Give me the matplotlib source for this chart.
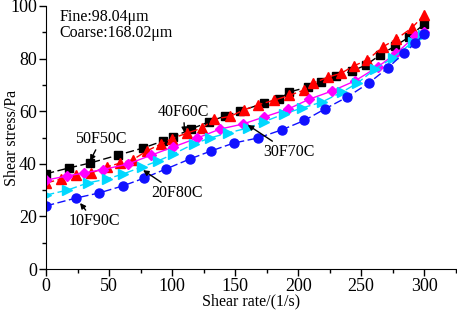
import matplotlib
matplotlib.use('Agg')
import matplotlib.pyplot as plt
from matplotlib.ticker import MultipleLocator

plt.rcParams['font.family'] = ['Liberation Serif', 'DejaVu Serif']

# 50F50C
x_50 = [0, 18, 35, 57, 77, 93, 101, 115, 129, 142, 154, 173, 185, 193, 208, 218, 230, 243, 254, 265, 277, 288, 300]
y_50 = [36.2, 38.4, 40.3, 43.3, 46.0, 48.7, 50.2, 53.2, 55.9, 58.2, 60.0, 63.1, 64.6, 67.3, 69.2, 71.1, 73.4, 75.3, 77.6, 81.4, 84.8, 88.2, 93.2]
# 40F60C
x_40 = [0, 12, 24, 36, 48, 59, 69, 80, 91, 100, 112, 124, 133, 146, 157, 168, 181, 193, 205, 212, 224, 234, 244, 255, 267, 278, 290, 300]
y_40 = [32.7, 34.2, 35.7, 36.5, 38.8, 40.3, 41.6, 44.9, 47.5, 49.6, 51.7, 53.6, 57.0, 58.0, 60.5, 62.4, 64.2, 66.0, 68.1, 70.7, 73.0, 74.4, 77.2, 79.5, 84.4, 87.5, 91.6, 96.6]
# 30F70C
x_30 = [0, 17, 30, 45, 65, 83, 101, 120, 138, 156, 173, 192, 209, 227, 245, 263, 278, 293, 300]
y_30 = [33.8, 35.4, 36.5, 37.8, 39.9, 43.2, 46.4, 49.8, 53.2, 55.1, 57.8, 60.8, 64.6, 67.7, 71.5, 76.8, 82.1, 88.6, 90.1]
# 20F80C
x_20 = [0, 17, 33, 48, 61, 76, 89, 101, 117, 130, 144, 160, 173, 189, 203, 219, 235, 247, 261, 275, 291, 299]
y_20 = [28.1, 30.0, 32.7, 34.2, 36.1, 38.8, 41.1, 43.7, 47.5, 49.8, 51.7, 53.6, 56.0, 59.0, 61.2, 63.5, 67.3, 70.7, 76.0, 80.2, 86.3, 89.0]
# 10F90C
x_10 = [0, 24, 42, 61, 78, 95, 114, 131, 149, 168, 187, 205, 221, 239, 256, 271, 284, 293, 300]
y_10 = [24.0, 27.0, 28.9, 31.6, 34.6, 38.0, 41.8, 44.9, 47.9, 49.8, 52.9, 56.5, 60.8, 65.4, 70.7, 76.4, 82.1, 85.9, 89.4]

fig = plt.figure(figsize=(4.57, 3.12), dpi=100)
ax = fig.add_axes([46/457, 43/312, 411/457, 263/312])

dash = (0, (6, 2.5))
ax.plot(x_50, y_50, color='black', ls=dash, lw=1, marker='s', ms=6)
ax.plot(x_40, y_40, color='#ff0000', ls=dash, lw=1, marker='^', ms=7)
ax.plot(x_30, y_30, color='#ff00ff', ls='-', lw=1, marker='D', ms=5.5)
ax.plot(x_20, y_20, color='#00d8ff', ls=dash, lw=1, marker='>', ms=7)
ax.plot(x_10, y_10, color='#1010ff', ls=dash, lw=1, marker='o', ms=6.5)

ax.set_xlim(0, 326)
ax.set_ylim(0, 100)
ax.xaxis.set_major_locator(MultipleLocator(50))
ax.xaxis.set_minor_locator(MultipleLocator(25))
ax.yaxis.set_major_locator(MultipleLocator(20))
ax.yaxis.set_minor_locator(MultipleLocator(10))
ax.spines['top'].set_visible(False)
ax.spines['right'].set_visible(False)
ax.tick_params(which='major', direction='out', length=5, width=1, labelsize=13, pad=1.5)
ax.tick_params(which='minor', direction='out', length=3, width=1)
ax.set_xlabel('Shear rate/(1/s)', fontsize=11.5)
ax.set_ylabel('Shear stress/Pa', fontsize=11.5)
# label coords: y label anchors at its right edge, x label at its top edge
ax.xaxis.set_label_coords(0.5, -0.093)
ax.yaxis.set_label_coords(-0.063, 0.5)

ax.text(11, 95.8, 'Fine:98.04\u03bcm', fontsize=11.5, va='center', ha='left')
ax.text(11, 89.7, 'Coarse:168.02\u03bcm', fontsize=11.5, va='center', ha='left')

arr = dict(arrowstyle='-|>', color='black', lw=1, mutation_scale=8, shrinkA=0, shrinkB=0)
ax.annotate('50F50C', xy=(35, 41.1), xytext=(43.8, 49.4), fontsize=11.5, ha='center', va='center', arrowprops=arr)
ax.annotate('40F60C', xy=(110, 51.7), xytext=(109, 59.7), fontsize=11.5, ha='center', va='center', arrowprops=arr)
ax.annotate('30F70C', xy=(160, 54.8), xytext=(192.5, 44.5), fontsize=11.5, ha='center', va='center', arrowprops=arr)
ax.annotate('20F80C', xy=(77, 37.6), xytext=(104, 28.9), fontsize=11.5, ha='center', va='center', arrowprops=arr)
ax.annotate('10F90C', xy=(27, 25.1), xytext=(38.2, 18.3), fontsize=11.5, ha='center', va='center', arrowprops=arr)

fig.savefig('out.png', dpi=100)
